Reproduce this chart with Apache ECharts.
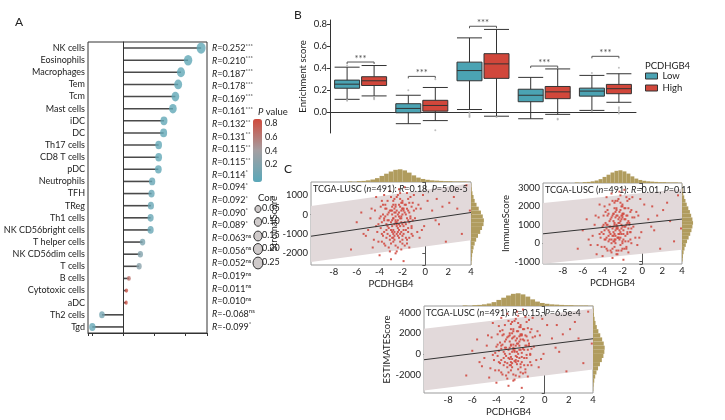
<!DOCTYPE html>
<html>
<head>
<meta charset="utf-8">
<script src="https://cdn.jsdelivr.net/npm/echarts@6/dist/echarts.min.js"></script>
<style>
  html, body { margin: 0; padding: 0; background: #fff; }
  #chart { width: 725px; height: 420px; }
</style>
</head>
<body>
<div id="chart"></div>
<script>
// ---- Panel A: immune cell correlation lollipop ----
const cellTypes = ['NK cells', 'Eosinophils', 'Macrophages', 'Tem', 'Tcm', 'Mast cells', 'iDC', 'DC',
  'Th17 cells', 'CD8 T cells', 'pDC', 'Neutrophils', 'TFH', 'TReg', 'Th1 cells', 'NK CD56bright cells',
  'T helper cells', 'NK CD56dim cells', 'T cells', 'B cells', 'Cytotoxic cells', 'aDC', 'Th2 cells', 'Tgd'];
const cellR = [0.252, 0.210, 0.187, 0.178, 0.169, 0.161, 0.132, 0.131, 0.115, 0.115, 0.114, 0.094,
  0.092, 0.090, 0.089, 0.089, 0.063, 0.056, 0.052, 0.019, 0.011, 0.010, -0.068, -0.099];
const cellP = [0.00001, 0.00001, 0.00003, 0.00008, 0.0002, 0.0003, 0.003, 0.004, 0.011, 0.011, 0.011, 0.037,
  0.042, 0.046, 0.048, 0.048, 0.16, 0.21, 0.25, 0.67, 0.81, 0.83, 0.13, 0.028];
const rLabels = ['0.252', '0.210', '0.187', '0.178', '0.169', '0.161', '0.132', '0.131', '0.115', '0.115',
  '0.114', '0.094', '0.092', '0.090', '0.089', '0.063', '0.056', '0.052', '0.019', '0.011', '0.010',
  '-0.068', '-0.099'];
const rStars = ['***', '***', '***', '***', '***', '***', '**', '**', '**', '**', '*', '*', '*', '*', '*',
  'ns', 'ns', 'ns', 'ns', 'ns', 'ns', 'ns', '*'];
const pTicks = [0.8, 0.6, 0.4, 0.2];
const corTicks = [0.05, 0.10, 0.15, 0.20, 0.25];

// ---- Panel B: enrichment score boxplots ----
const boxCats = ['g1', 'g2', 'g3', 'g4', 'g5'];
const lowBox = [
  [0.117, 0.218, 0.255, 0.292, 0.410],
  [-0.105, -0.006, 0.034, 0.077, 0.154],
  [0.024, 0.286, 0.379, 0.456, 0.677],
  [-0.060, 0.095, 0.154, 0.209, 0.317],
  [0.016, 0.146, 0.192, 0.219, 0.335]
];
const highBox = [
  [0.148, 0.243, 0.286, 0.323, 0.425],
  [-0.077, 0.009, 0.061, 0.108, 0.225],
  [-0.037, 0.308, 0.440, 0.533, 0.754],
  [-0.020, 0.123, 0.185, 0.234, 0.394],
  [0.090, 0.168, 0.214, 0.253, 0.350]
];
const lowOutliers = [[0, 0.105], [0, 0.112], [0, 0.425], [1, 0.200], [2, -0.045], [2, -0.035], [2, -0.025],
  [2, -0.012], [2, 0.0], [4, 0.356], [4, 0.010]];
const highOutliers = [[0, 0.118], [0, 0.126], [0, 0.134], [1, -0.165], [1, 0.300], [2, -0.045],
  [3, -0.060], [3, -0.066], [4, 0.405], [4, 0.045], [4, 0.030], [4, 0.015], [4, 0.0], [4, -0.012]];
const sigY = [0.457, 0.326, 0.783, 0.420, 0.509];
const sigMarks = ['***', '***', '***', '***', '***'];

// ---- Panel C: PCDHGB4 vs ESTIMATE scores ----
const pcdhgb4 = [
  -2.6, -2.1, -3.0, -1.8, -2.9, -3.4, -2.3, -1.5, -3.8, -2.7, -1.2, -4.2, -2.0, -3.2, -2.4, -1.6, -0.8, -3.6, -2.8, -1.9,
  -4.6, -2.2, -3.1, -1.4, -2.5, -3.9, -0.3, -5.2, -2.0, -2.7, -1.1, -3.3, -2.3, 0.6, -1.7, -3.7, -2.9, -4.0, -1.3, -2.6,
  1.2, -3.5, -2.1, -0.5, -4.8, -1.9, -3.0, 2.1, -2.4, -1.0, -6.5, -3.4, -2.2, -1.6, 0.2, -4.4, -2.8, -1.4, 3.6, -3.9,
  -2.5, -0.9, -5.6, -2.0, 1.8, -3.1, -1.7, -2.6, -4.1, -1.2, 2.8, -3.6, -2.3, -0.2, -5.0, -2.9, -1.5, 3.2, -3.3, -2.1,
  0.9, -4.5, -1.8, -2.7, -3.8, -1.1, -6.0, 2.5, -2.4, -1.4, -3.2, -0.6, -2.0, -4.3, 1.5, -2.8, -3.6, -1.9, -0.1, 3.9,
  -2.5, -2.2, -3.0, -1.8, -2.7, -3.5, -2.0, -1.5, -2.9, -2.3, -3.8, -1.3, -2.6, -3.2, -2.1, -1.6, -2.8, -3.4, -2.4, -1.9,
  -3.0, -2.2, -1.7, -2.6, -3.6, -2.0, -1.2, -2.9, -2.5, -3.3, -1.8, -2.3, -4.0, -2.7, -1.4, -3.1, -2.1, -2.8, -1.6, -3.5,
  -2.4, -3.1, -1.9, -2.6, -3.7, -2.2, -1.5, -2.8, -3.3, -2.0, -1.1, -2.5, -3.9, -2.3, -1.7, -3.0, -2.7, -4.3, -1.3, -2.1,
  -3.5, -2.9, -1.6, -2.4, -3.2, -0.7, -2.6, -1.9, -3.4, -2.2, -4.7, -1.4, -2.8, -3.6, -2.0, -2.5, -1.0, -3.1, -2.3, -1.7,
  -2.9, -3.8, -2.1, -1.2, -2.7, -3.3, -1.8, -2.4, -4.1, -2.6, -0.4, -3.0, -2.2, -1.5, -3.7, -2.8, -2.0, -5.4, 1.0, -2.5
];
const stromalScore = [
  -300, 200, -800, 500, -1200, -500, -100, 800, -1400, 300, -600, -900, -1500, 100, -700, -200, 300, -300, 700, -1000,
  -1700, 1100, -1900, 100, -400, 400, -800, -1100, 600, -1300, -300, -1000, 1300, 200, -800, 0, -600, -2100, 900, -1600,
  -500, 500, -400, -1200, -200, 200, -2300, 600, -900, 1000, -1800, -1200, 400, -1300, 700, 200, -200, -1700, 1500, -700,
  900, -200, 100, -1100, -1400, 1200, 0, -2000, -500, 400, 300, -1500, 100, 1000, -800, 400, -900, -1000, -300, -1800,
  -300, -1300, 1400, -500, 700, -1100, -400, 900, -1100, 600, -1700, 500, -500, 900, 400, -1000, 1000, -2400, -600, 200,
  -600, -200, 200, -400, -900, -100, 300, -700, 0, -1200, -400, -100, 500, -700, -900, 300, -1400, 300, 0, -600,
  -400, 800, -1200, -100, -900, 0, -1000, -300, 200, -600, 100, -500, -200, 100, -400, -1100, 600, -800, -1500, -1600,
  -300, 200, -800, 400, -1100, -600, 200, -200, 700, -1300, 600, -1000, -100, 500, -500, -1500, 800, -600, -200, -100,
  300, -900, 1100, -1700, -300, -900, 100, 300, -800, -1400, 300, -1200, 500, -200, 700, -500, 200, -1300, -800, 500,
  200, -1000, -200, -700, -1100, 0, -1600, 1000, -1400, -400, 300, 900, -1000, -300, 500, -1200, 300, -1000, 800, -1900
];
const immuneScore = [
  900, 1500, 400, 1900, 100, 700, 1100, 2300, -200, 1700, 600, 300, -300, 1300, 500, 1000, 1400, 800, 2200, 200,
  -600, 2600, -500, 1200, 900, 1500, 300, -100, 2000, 0, 800, 200, 2800, 1300, 400, 1100, 600, -700, 2400, -400,
  700, 1800, 800, -100, 1000, 1600, -800, 1800, 300, 2500, -300, 100, 1800, -200, 2100, 1400, 1000, -500, 2600, 500,
  2300, 900, 1300, 100, -300, 2700, 1300, -600, 600, 1700, 1200, -300, 1400, 2400, 400, 1600, 500, 100, 900, -400,
  900, -100, 2900, 700, 2000, 0, 700, 2200, 300, 1900, -400, 1700, 900, 2100, 1500, 200, 2500, -900, 600, 800,
  800, 1200, 1500, 900, 400, 1000, 1600, 600, 1200, 200, 700, 1100, 1900, 500, 500, 1500, -200, 1600, 1300, 700,
  800, 2200, 100, 1000, 300, 1400, 200, 900, 1500, 600, 1300, 700, 900, 1400, 800, 200, 2000, 500, -300, -400,
  1100, 1400, 500, 1800, 200, 600, 1500, 1100, 2100, 0, 1800, 300, 1000, 1700, 900, -300, 2300, 500, 1000, 1300,
  1500, 400, 2500, -400, 900, 300, 1500, 1600, 400, -100, 1500, 100, 1900, 1000, 2100, 800, 1400, 0, 500, 1900,
  1600, 200, 1000, 600, 200, 1200, -300, 2400, -200, 800, 1500, 2300, 300, 1100, 1700, 100, 1500, 200, 2000, -600
];
const estimateScore = [
  600, 1700, -400, 2400, -1100, 200, 1000, 3100, -1600, 2000, 0, -600, -1800, 1400, -200, 800, 1700, 500, 2900, -800,
  -2300, 3700, -2400, 1300, 500, 1900, -500, -1200, 2600, -1300, 500, -800, 4100, 1500, -400, 1100, 0, -2800, 3300, -2000,
  200, 2300, 400, -1300, 800, 1800, -3100, 2400, -600, 3500, -2100, -1100, 2200, -1500, 2800, 1600, 800, -2200, 4100, -200,
  3200, 700, 1400, -1000, -1700, 3900, 1300, -2600, 100, 2100, 1500, -1800, 1500, 3400, -400, 2000, -400, -900, 600, -2200,
  600, -1400, 4300, 200, 2700, -1100, 300, 3100, -800, 2500, -2100, 2200, 400, 3000, 1900, -800, 3500, -3300, 0, 1000,
  200, 1000, 1700, 500, -500, 900, 1900, -100, 1200, -1000, 300, 1000, 2400, -200, -400, 1800, -1600, 1900, 1300, 100,
  400, 3000, -1100, 900, -600, 1400, -800, 600, 1700, 0, 1400, 200, 700, 1500, 400, -900, 2600, -300, -1800, -2000,
  800, 1600, -300, 2200, -900, 0, 1700, 900, 2800, -1300, 2400, -700, 900, 2200, 400, -1800, 3100, -100, 800, 1200,
  1800, -500, 3600, -2100, 600, -600, 1600, 1900, -400, -1500, 1800, -1100, 2400, 800, 2800, 300, 1600, -1300, -300, 2400,
  1800, -800, 800, -100, -900, 1200, -1900, 3400, -1600, 400, 1800, 3200, -700, 800, 2200, -1100, 1800, -800, 2800, -2500
];
const fitX = [-10, 4];
const stromalFit = [-1120, 100];
const stromalBandLo = [-2450, -1330];
const stromalBandHi = [440, 1600];
const immuneFit = [510, 1310];
const immuneBandLo = [-1120, -360];
const immuneBandHi = [2180, 2945];
const estimateFit = [-570, 1470];
const estimateBandLo = [-3560, -1520];
const estimateBandHi = [2440, 4390];

const topHistX = [-6.6, -6.2, -5.8, -5.4, -5.0, -4.6, -4.2, -3.8, -3.4, -3.0, -2.6, -2.2, -1.8, -1.4,
  -1.0, -0.6, -0.2, 0.2, 0.6, 1.0, 1.4, 1.8, 2.2, 2.6, 3.0, 3.4, 3.8];
const topHistN = [2, 1, 3, 4, 6, 9, 14, 22, 30, 38, 44, 46, 42, 34, 24, 16, 11, 8, 6, 5, 4, 3, 3, 2, 2, 2, 1];
const stromalHistY = [-2500, -2300, -2100, -1900, -1700, -1500, -1300, -1100, -900, -700, -500, -300, -100,
  100, 300, 500, 700, 900, 1100, 1300, 1500];
const stromalHistN = [1, 2, 3, 5, 7, 10, 14, 19, 25, 30, 34, 35, 32, 27, 21, 15, 10, 7, 4, 2, 1];
const immuneHistY = [-900, -700, -500, -300, -100, 100, 300, 500, 700, 900, 1100, 1300, 1500, 1700, 1900,
  2100, 2300, 2500, 2700, 2900, 3100];
const immuneHistN = [2, 3, 5, 8, 12, 16, 21, 26, 30, 33, 35, 33, 29, 25, 20, 15, 11, 7, 4, 2, 1];
const estimateHistY = [-3400, -3000, -2600, -2200, -1800, -1400, -1000, -600, -200, 200, 600, 1000, 1400,
  1800, 2200, 2600, 3000, 3400, 3800, 4200, 4500];
const estimateHistN = [1, 2, 4, 7, 11, 16, 22, 28, 33, 36, 37, 34, 29, 23, 17, 12, 8, 5, 3, 2, 1];

// ---- styles ----
const FONT = 'Lato, "Liberation Sans", sans-serif';
const FS = 9;
const INK = '#222';
const TEAL = '#4ba3b3';
const RED = '#d1473b';
const DOT = '#d24b42';
const HIST = '#b09c5e';
const BAND = '#e2d9da';

const chart = echarts.init(document.getElementById('chart'), null, { renderer: 'canvas' });

const grid = [], xAxis = [], yAxis = [], series = [], graphic = [];
const addGrid = g => grid.push(g) - 1;
const addX = a => xAxis.push(a) - 1;
const addY = a => yAxis.push(a) - 1;

const lineStyle = { color: '#333', width: 1 };
const labelStyle = { color: INK, fontFamily: FONT, fontSize: FS };
const nameStyle = { color: INK, fontFamily: FONT, fontSize: 9.5 };
const dotSize = r => {
  const w = 1.9 + 14.2 * Math.sqrt(Math.abs(r));
  return [w, w * 1.25];
};

// ---- Panel A ----
const gA = addGrid({ left: 88, top: 42, width: 119, height: 291, show: true, borderColor: '#333', borderWidth: 1 });
const xA = addX({
  gridIndex: gA, type: 'value', min: -0.113, max: 0.271, splitNumber: 5,
  axisLine: { show: true, lineStyle }, axisTick: { show: true, length: 3, lineStyle },
  axisLabel: { show: false }, splitLine: { show: false }
});
const yA = addY({
  gridIndex: gA, type: 'category', data: cellTypes, inverse: true,
  axisLine: { lineStyle }, axisTick: { alignWithLabel: true, length: 3, lineStyle },
  axisLabel: Object.assign({}, labelStyle, { interval: 0, margin: 3 })
});
const yA2 = addY({
  gridIndex: gA, type: 'category', position: 'right', data: rLabels, inverse: true,
  axisLine: { show: false }, axisTick: { show: false },
  axisLabel: {
    interval: 0, margin: 5,
    formatter: (v, i) => '{i|R}{n|=' + rLabels[i] + '}{s|' + rStars[i] + '}',
    rich: {
      i: { fontFamily: FONT, fontSize: FS, fontStyle: 'italic', color: INK, lineHeight: 11 },
      n: { fontFamily: FONT, fontSize: FS, color: INK, lineHeight: 11 },
      s: { fontFamily: FONT, fontSize: 6, color: INK, verticalAlign: 'top', lineHeight: 11 }
    }
  }
});
series.push({
  type: 'bar', xAxisIndex: xA, yAxisIndex: yA, data: cellR, barWidth: 1.6, silent: true,
  itemStyle: { color: '#4a4a4a' },
  markLine: {
    silent: true, symbol: ['none', 'none'], label: { show: false },
    lineStyle: { color: '#333', width: 1, type: 'solid' },
    data: [{ xAxis: 0 }]
  }
});
const dotSeries = series.push({
  type: 'scatter', xAxisIndex: xA, yAxisIndex: yA, z: 3,
  data: cellR.map((r, i) => [r, i, cellP[i]]),
  symbol: 'circle', symbolSize: v => dotSize(v[0])
}) - 1;

// ---- Panel B ----
const gB = addGrid({ left: 330, top: 20, width: 306, height: 113 });
const xB = addX({
  gridIndex: gB, type: 'category', data: boxCats,
  axisLine: { lineStyle }, axisTick: { alignWithLabel: true, length: 2, lineStyle },
  axisLabel: { show: false }
});
const yB = addY({
  gridIndex: gB, type: 'value', min: -0.19, max: 0.84, splitNumber: 5,
  name: 'Enrichment score', nameLocation: 'middle', nameGap: 22, nameTextStyle: nameStyle,
  axisLine: { show: true, lineStyle }, axisTick: { show: true, length: 3, lineStyle },
  axisLabel: Object.assign({}, labelStyle, {
    fontSize: 9.5, margin: 3, showMinLabel: false, showMaxLabel: false,
    formatter: v => (Math.abs(v * 10 - Math.round(v * 10)) < 1e-6 && v >= 0 && v <= 0.8) ? v.toFixed(1) : ''
  }),
  splitLine: { show: false }
});
series.push({
  name: 'Low', type: 'boxplot', xAxisIndex: xB, yAxisIndex: yB, data: lowBox, boxWidth: [25, 25],
  itemStyle: { color: TEAL, borderColor: '#333', borderWidth: 1 }
});
series.push({
  name: 'High', type: 'boxplot', xAxisIndex: xB, yAxisIndex: yB, data: highBox, boxWidth: [25, 25],
  itemStyle: { color: RED, borderColor: '#333', borderWidth: 1 }
});
series.push({
  type: 'scatter', xAxisIndex: xB, yAxisIndex: yB, data: lowOutliers, symbolSize: 2,
  symbolOffset: [-13.5, 0], itemStyle: { color: '#b0b0b0' }, silent: true
});
series.push({
  type: 'scatter', xAxisIndex: xB, yAxisIndex: yB, data: highOutliers, symbolSize: 2,
  symbolOffset: [13.5, 0], itemStyle: { color: '#b0b0b0' }, silent: true
});
series.push({
  type: 'custom', xAxisIndex: xB, yAxisIndex: yB, silent: true,
  data: sigY.map((y, i) => [i, y]),
  renderItem: (params, api) => {
    const p = api.coord([api.value(0), api.value(1)]);
    const h = 13.5;
    return {
      type: 'group',
      children: [
        {
          type: 'polyline',
          shape: { points: [[p[0] - h, p[1] + 2], [p[0] - h, p[1]], [p[0] + h, p[1]], [p[0] + h, p[1] + 2]] },
          style: { stroke: '#555', fill: null, lineWidth: 1 }
        },
        {
          type: 'text',
          style: { text: sigMarks[params.dataIndex], x: p[0], y: p[1] + 2, align: 'center', verticalAlign: 'bottom', fontSize: 9.5, fill: '#555', fontFamily: FONT }
        }
      ]
    };
  }
});

// ---- Panel C ----
function histItem(vertical, binW) {
  return (params, api) => {
    const c = api.value(vertical ? 0 : 1);
    const n = api.value(vertical ? 1 : 0);
    let a, b;
    if (vertical) {
      a = api.coord([c - binW / 2, 0]);
      b = api.coord([c + binW / 2, n]);
    } else {
      a = api.coord([0, c - binW / 2]);
      b = api.coord([n, c + binW / 2]);
    }
    return {
      type: 'rect',
      shape: { x: Math.min(a[0], b[0]), y: Math.min(a[1], b[1]), width: Math.abs(b[0] - a[0]), height: Math.abs(b[1] - a[1]) },
      style: { fill: HIST }
    };
  };
}

function addScatterPanel(p) {
  const g = addGrid({ left: p.left, top: p.top, width: p.width, height: p.height, show: true, borderColor: '#9b9b9b', borderWidth: 1 });
  const gx = addX({
    gridIndex: g, type: 'value', min: -10, max: 4, interval: 2,
    name: 'PCDHGB4', nameLocation: 'middle', nameGap: 14, nameTextStyle: nameStyle,
    axisLine: { lineStyle: { color: '#555' } }, axisTick: { length: 3, lineStyle: { color: '#555' } },
    axisLabel: Object.assign({}, labelStyle, { fontSize: 9.5, margin: 2, formatter: v => (v === -10 ? '' : String(v)) }),
    splitLine: { show: false }
  });
  const gy = addY({
    gridIndex: g, type: 'value', min: p.yMin, max: p.yMax, splitNumber: 4,
    name: p.yName, nameLocation: 'middle', nameGap: p.nameGap, nameTextStyle: nameStyle,
    axisLine: { show: true, lineStyle: { color: '#555' } }, axisTick: { show: true, length: 3, lineStyle: { color: '#555' } },
    axisLabel: Object.assign({}, labelStyle, { fontSize: 9.5, margin: 3, formatter: v => (v % p.step === 0 ? String(v) : '') }),
    splitLine: { show: false }
  });
  series.push({
    type: 'custom', xAxisIndex: gx, yAxisIndex: gy, silent: true, z: 1, data: [[fitX[0], p.bandLo[0]]],
    renderItem: (params, api) => ({
      type: 'polygon',
      shape: {
        points: [
          api.coord([fitX[0], p.bandHi[0]]), api.coord([fitX[1], p.bandHi[1]]),
          api.coord([fitX[1], p.bandLo[1]]), api.coord([fitX[0], p.bandLo[0]])
        ]
      },
      style: { fill: BAND }
    })
  });
  series.push({
    type: 'scatter', xAxisIndex: gx, yAxisIndex: gy, z: 2, silent: true,
    data: pcdhgb4.map((x, i) => [x, p.y[i]]),
    symbol: 'rect', symbolSize: 2, itemStyle: { color: DOT, opacity: 0.9 }
  });
  series.push({
    type: 'line', xAxisIndex: gx, yAxisIndex: gy, z: 3, silent: true,
    data: fitX.map((x, i) => [x, p.fit[i]]), symbol: 'none',
    lineStyle: { color: '#333', width: 1 }
  });

  const gt = addGrid({ left: p.left, top: p.top - 13, width: p.width, height: 13 });
  const tx = addX({ gridIndex: gt, type: 'value', min: -10, max: 4, show: false });
  const ty = addY({ gridIndex: gt, type: 'value', min: 0, max: 47, show: false });
  series.push({
    type: 'custom', xAxisIndex: tx, yAxisIndex: ty, silent: true,
    data: topHistX.map((x, i) => [x, topHistN[i]]),
    encode: { x: 0, y: 1 },
    renderItem: histItem(true, 0.4)
  });

  const gr = addGrid({ left: p.left + p.width, top: p.top, width: p.histW, height: p.height });
  const rx = addX({ gridIndex: gr, type: 'value', min: 0, max: 38, show: false });
  const ry = addY({ gridIndex: gr, type: 'value', min: p.yMin, max: p.yMax, show: false });
  series.push({
    type: 'custom', xAxisIndex: rx, yAxisIndex: ry, silent: true,
    data: p.histY.map((y, i) => [p.histN[i], y]),
    encode: { x: 0, y: 1 },
    renderItem: histItem(false, p.binW)
  });

  graphic.push({
    type: 'text', left: p.left + 2, top: p.top + 3, z: 10,
    style: {
      text: '{a|TCGA-LUSC (}{i|n}{a|=491): }{i|R}{a|=' + p.r + ', }{i|P}{a|=' + p.pv + '}',
      rich: {
        a: { fontFamily: FONT, fontSize: FS, fill: INK },
        i: { fontFamily: FONT, fontSize: FS, fill: INK, fontStyle: 'italic' }
      }
    }
  });
}

addScatterPanel({
  left: 311, top: 182, width: 160, height: 83, histW: 14,
  yMin: -2600, yMax: 1670, step: 1000, yName: 'StromalScore', nameGap: 28,
  y: stromalScore, fit: stromalFit, bandLo: stromalBandLo, bandHi: stromalBandHi,
  histY: stromalHistY, histN: stromalHistN, binW: 200, r: '0.18', pv: '5.0e-5'
});
addScatterPanel({
  left: 543, top: 183, width: 139, height: 81, histW: 12,
  yMin: -1130, yMax: 3270, step: 1000, yName: 'ImmuneScore', nameGap: 26,
  y: immuneScore, fit: immuneFit, bandLo: immuneBandLo, bandHi: immuneBandHi,
  histY: immuneHistY, histN: immuneHistN, binW: 200, r: '0.01', pv: '0.11'
});
addScatterPanel({
  left: 424, top: 306, width: 169, height: 87, histW: 12,
  yMin: -3800, yMax: 4650, step: 2000, yName: 'ESTIMATEScore', nameGap: 28,
  y: estimateScore, fit: estimateFit, bandLo: estimateBandLo, bandHi: estimateBandHi,
  histY: estimateHistY, histN: estimateHistN, binW: 400, r: '0.15', pv: '6.5e-4'
});

// ---- panel letters and legends ----
const txt = (text, x, y, size, extra) => graphic.push({
  type: 'text', left: x, top: y, z: 10,
  style: Object.assign({ text, fontFamily: FONT, fontSize: size, fill: INK }, extra || {})
});
txt('A', 15, 16, 12);
txt('B', 294, 9, 12);
txt('C', 284, 163, 12);
graphic.push({
  type: 'text', left: 258, top: 107, z: 10,
  style: {
    text: '{i|P} value',
    fontFamily: FONT, fontSize: 9.5, fill: INK,
    rich: { i: { fontFamily: FONT, fontSize: 9.5, fill: INK, fontStyle: 'italic' } }
  }
});
const pMin = -0.04, pMax = 0.88, barTop = 119, barH = 63;
pTicks.forEach(t => txt(t.toFixed(1), 265, barTop + (pMax - t) / (pMax - pMin) * barH - 5.5, 9));
txt('Cor', 258, 193, 9.5);
const corY = [209, 222, 236, 249, 263];
corTicks.forEach((c, i) => {
  const s = dotSize(c);
  graphic.push({
    type: 'ellipse', z: 10,
    shape: { cx: 258, cy: corY[i], rx: s[0] / 2 + 0.5, ry: s[1] / 2 + 0.3 },
    style: { fill: '#cfcaca', stroke: '#333', lineWidth: 1 }
  });
  txt(c.toFixed(2), 262, corY[i] - 5, 9);
});
txt('PCDHGB4', 645, 61, 9.5);

chart.setOption({
  animation: false,
  backgroundColor: '#fff',
  textStyle: { fontFamily: FONT },
  grid, xAxis, yAxis, series, graphic,
  legend: {
    data: [
      { name: 'Low', itemStyle: { color: TEAL, borderColor: '#333', borderWidth: 1 } },
      { name: 'High', itemStyle: { color: RED, borderColor: '#333', borderWidth: 1 } }
    ],
    orient: 'vertical', left: 645, top: 71, padding: 0,
    itemWidth: 12, itemHeight: 6, itemGap: 2, icon: 'rect',
    textStyle: { color: INK, fontFamily: FONT, fontSize: 9.5 }
  },
  visualMap: {
    type: 'continuous', seriesIndex: dotSeries, dimension: 2,
    min: pMin, max: pMax, calculable: false, padding: 0,
    left: 253, top: barTop, itemWidth: 9, itemHeight: barH,
    inRange: { color: ['#5aa8b9', '#a49fa2', '#d04a3c'] },
    textStyle: { color: INK }
  }
});
</script>
</body>
</html>
